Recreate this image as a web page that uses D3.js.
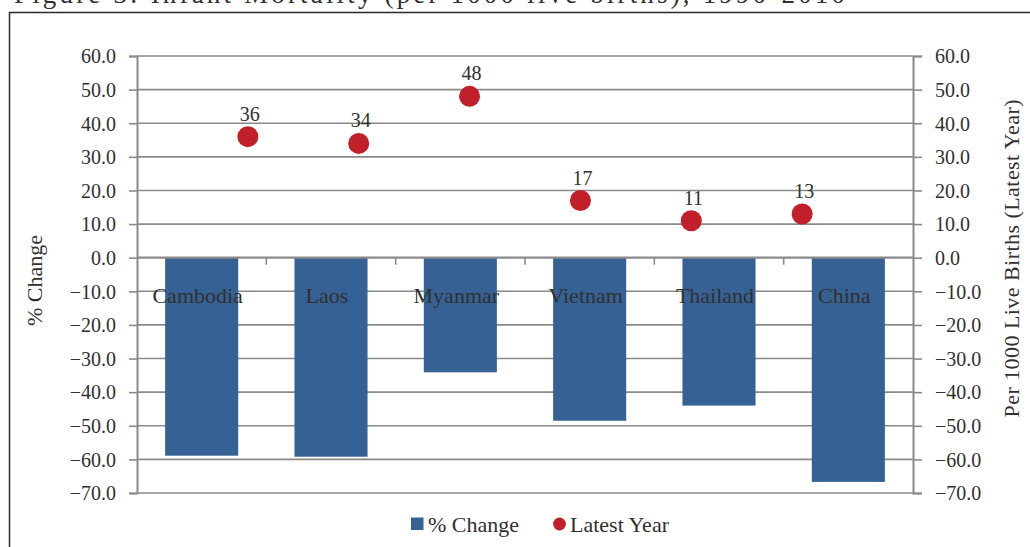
<!DOCTYPE html>
<html>
<head>
<meta charset="utf-8">
<script src="https://cdn.jsdelivr.net/npm/d3@7"></script>
<style>
  html, body { margin: 0; padding: 0; background: #fff; }
  svg { display: block; }
  text { font-family: "Liberation Serif", "Times New Roman", serif; fill: #303030; }
</style>
</head>
<body>
<svg id="chart" width="1030" height="547"></svg>
<script>
// Infant mortality: % change (bars) and latest-year rate per 1000 live births (dots)
const categories = ["Cambodia", "Laos", "Myanmar", "Vietnam", "Thailand", "China"];
const pctChange = [-58.9, -59.2, -34.1, -48.5, -44.0, -66.7];
const latestYear = [36, 34, 48, 17, 11, 13];
const yTicks = [60, 50, 40, 30, 20, 10, 0, -10, -20, -30, -40, -50, -60, -70];
const seriesNames = ["% Change", "Latest Year"];
const titleText = "Figure 3: Infant Mortality (per 1000 live births), 1990-2010";
const leftTitle = "%  Change";
const rightTitle = "Per 1000 Live Births (Latest Year)";

const svg = d3.select("#chart");
const plot = { left: 137, right: 913, top: 56, bottom: 493 };
const barColor = "#366194";
const dotColor = "#C1202A";
const gridColor = "#8a8a8a";
const serif = "'Liberation Serif', 'Times New Roman', serif";

// Outer frame and figure caption running off the top edge
svg.append("rect")
  .attr("x", 9.5).attr("y", 12.5)
  .attr("width", 1100).attr("height", 700)
  .attr("fill", "none").attr("stroke", "#2a2a2a").attr("stroke-width", 1.5);

svg.append("text")
  .attr("x", 14).attr("y", 2.5)
  .attr("textLength", 831).attr("lengthAdjust", "spacing")
  .style("font-size", "27px")
  .text(titleText);

const y = d3.scaleLinear().domain([-70, 60]).range([plot.bottom, plot.top]);
const x = d3.scaleBand().domain(categories).range([plot.left, plot.right])
  .paddingInner(0.435).paddingOuter(0.2175);
// Secondary horizontal scale used by the dot series
const xDot = d3.scaleLinear().domain([0, categories.length + 1]).range([plot.left, plot.right]);

// Horizontal gridlines
svg.append("g")
  .selectAll("line")
  .data(yTicks.filter(d => d !== 0))
  .join("line")
  .attr("x1", plot.left).attr("x2", plot.right)
  .attr("y1", d => y(d)).attr("y2", d => y(d))
  .attr("stroke", gridColor).attr("stroke-width", 1.6);

function styleAxis(g) {
  g.attr("font-family", serif);
  g.select(".domain").attr("stroke", gridColor).attr("stroke-width", 2);
  g.selectAll(".tick line").attr("stroke", gridColor).attr("stroke-width", 1.6);
  g.selectAll(".tick text")
    .style("font-size", "20px").style("font-family", serif)
    .attr("fill", "#303030").attr("dy", "0.34em");
}

// Left axis
svg.append("g")
  .attr("transform", `translate(${plot.left},0)`)
  .call(d3.axisLeft(y).tickValues(yTicks).tickFormat(d3.format(".1f")).tickSize(8).tickPadding(13))
  .call(styleAxis);

// Right axis
svg.append("g")
  .attr("transform", `translate(${plot.right},0)`)
  .call(d3.axisRight(y).tickValues(yTicks).tickFormat(d3.format(".1f")).tickSize(9).tickPadding(13))
  .call(styleAxis);

// Bars
svg.append("g")
  .selectAll("rect")
  .data(categories.map((c, i) => ({ c, v: pctChange[i] })))
  .join("rect")
  .attr("x", d => x(d.c))
  .attr("width", x.bandwidth())
  .attr("y", d => y(Math.max(0, d.v)))
  .attr("height", d => Math.abs(y(d.v) - y(0)))
  .attr("fill", barColor);

// Category axis at zero
const step = x.step();
svg.append("line")
  .attr("x1", plot.left).attr("x2", plot.right)
  .attr("y1", y(0)).attr("y2", y(0))
  .attr("stroke", gridColor).attr("stroke-width", 2.2);
svg.append("g")
  .selectAll("line")
  .data(d3.range(1, categories.length))
  .join("line")
  .attr("x1", i => plot.left + i * step).attr("x2", i => plot.left + i * step)
  .attr("y1", y(0)).attr("y2", y(0) + 7)
  .attr("stroke", gridColor).attr("stroke-width", 1.6);

svg.append("g")
  .selectAll("text")
  .data(categories)
  .join("text")
  .attr("x", d => x(d) + x.bandwidth() / 2 - 4)
  .attr("y", y(0) + 45)
  .attr("text-anchor", "middle")
  .style("font-size", "22px")
  .text(d => d);

// Latest-year dots with value labels
const dots = categories.map((c, i) => ({ c, i, v: latestYear[i] }));
svg.append("g")
  .selectAll("circle")
  .data(dots)
  .join("circle")
  .attr("cx", d => xDot(d.i + 1))
  .attr("cy", d => y(d.v))
  .attr("r", 10.5)
  .attr("fill", dotColor);

svg.append("g")
  .selectAll("text")
  .data(dots)
  .join("text")
  .attr("x", d => xDot(d.i + 1) + 2)
  .attr("y", d => y(d.v) - 16)
  .attr("text-anchor", "middle")
  .style("font-size", "20px")
  .text(d => d.v);

// Axis titles
svg.append("text")
  .attr("transform", `translate(42,${(plot.top + plot.bottom) / 2 + 6}) rotate(-90)`)
  .attr("text-anchor", "middle")
  .style("font-size", "22px")
  .text(leftTitle);

svg.append("text")
  .attr("transform", `translate(1019,${(plot.top + plot.bottom) / 2 - 16}) rotate(-90)`)
  .attr("text-anchor", "middle")
  .style("font-size", "22px")
  .attr("textLength", 318).attr("lengthAdjust", "spacing")
  .text(rightTitle);

// Legend
const legend = svg.append("g");
legend.append("rect")
  .attr("x", 411).attr("y", 517.5).attr("width", 12.5).attr("height", 12.5)
  .attr("fill", barColor);
legend.append("text")
  .attr("x", 428).attr("y", 532)
  .style("font-size", "22px")
  .text(seriesNames[0]);
legend.append("circle")
  .attr("cx", 559.5).attr("cy", 524).attr("r", 6.4)
  .attr("fill", dotColor);
legend.append("text")
  .attr("x", 570).attr("y", 532)
  .style("font-size", "22px")
  .text(seriesNames[1]);
</script>
</body>
</html>
